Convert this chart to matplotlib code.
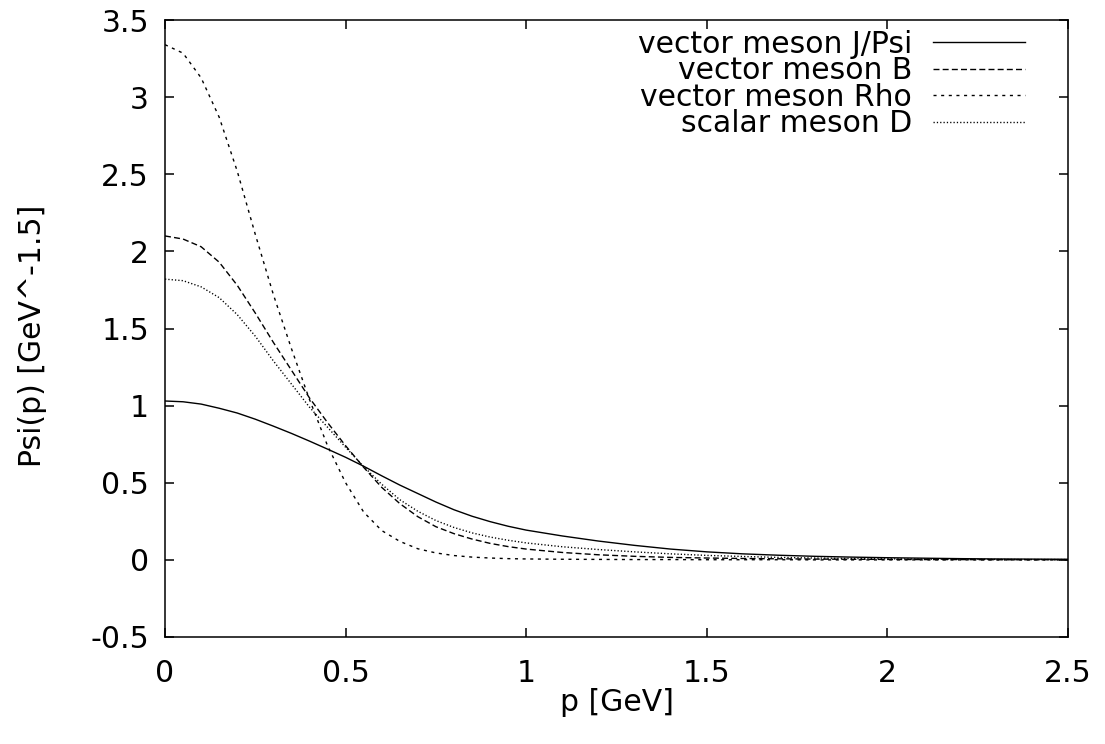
import matplotlib
matplotlib.use("Agg")
import matplotlib.pyplot as plt

p_values = [0, 0.05, 0.1, 0.15, 0.2, 0.25, 0.3, 0.35, 0.4, 0.45, 0.5, 0.55, 0.6,
            0.65, 0.7, 0.75, 0.8, 0.85, 0.9, 0.95, 1.0, 1.1, 1.2, 1.3, 1.4, 1.5,
            1.6, 1.7, 1.8, 1.9, 2.0, 2.1, 2.2, 2.3, 2.4, 2.5]

psi_jpsi = [1.03, 1.025, 1.01, 0.983, 0.952, 0.912, 0.867, 0.82, 0.77, 0.718, 0.665,
            0.607, 0.545, 0.485, 0.43, 0.375, 0.325, 0.283, 0.248, 0.218, 0.193, 0.155,
            0.122, 0.094, 0.070, 0.052, 0.039, 0.030, 0.023, 0.018, 0.014, 0.011,
            0.008, 0.006, 0.005, 0.004]

psi_b = [2.10, 2.08, 2.03, 1.93, 1.78, 1.60, 1.41, 1.23, 1.05, 0.89, 0.74, 0.60,
         0.47, 0.365, 0.28, 0.215, 0.17, 0.135, 0.107, 0.086, 0.070, 0.048, 0.033,
         0.023, 0.016, 0.012, 0.009, 0.007, 0.005, 0.004, 0.003, 0.002, 0.002,
         0.001, 0.001, 0.001]

psi_rho = [3.34, 3.285, 3.125, 2.87, 2.52, 2.11, 1.72, 1.37, 1.04, 0.74, 0.50, 0.31,
           0.19, 0.12, 0.072, 0.045, 0.028, 0.018, 0.012, 0.008, 0.006, 0.004,
           0.003, 0.002, 0.002, 0.001, 0.001, 0.001, 0.0, 0.0, 0.0, 0.0, 0.0,
           0.0, 0.0, 0.0]

psi_d = [1.82, 1.81, 1.77, 1.70, 1.59, 1.45, 1.29, 1.14, 0.99, 0.86, 0.73, 0.605,
         0.49, 0.39, 0.315, 0.255, 0.21, 0.175, 0.148, 0.127, 0.11, 0.085, 0.067,
         0.052, 0.039, 0.029, 0.022, 0.016, 0.012, 0.009, 0.007, 0.005, 0.004,
         0.003, 0.002, 0.002]

labels = ["vector meson J/Psi", "vector meson B", "vector meson Rho", "scalar meson D"]
x_ticks = [0, 0.5, 1, 1.5, 2, 2.5]
x_tick_labels = ["0", "0.5", "1", "1.5", "2", "2.5"]
y_ticks = [-0.5, 0, 0.5, 1, 1.5, 2, 2.5, 3, 3.5]
y_tick_labels = ["-0.5", "0", "0.5", "1", "1.5", "2", "2.5", "3", "3.5"]

plt.rcParams['font.family'] = ['DejaVu Sans']
plt.rcParams['lines.scale_dashes'] = False

FS = 21.5

fig = plt.figure(figsize=(11.05, 7.44), dpi=100)
ax = fig.add_axes([165/1105, 1 - 637/744, (1068 - 165)/1105, (637 - 20)/744])

lw = 1.0
ax.plot(p_values, psi_jpsi, color='black', lw=lw, linestyle='-', label=labels[0])
ax.plot(p_values, psi_b, color='black', lw=lw, linestyle=(0, (4.3, 2.3)), label=labels[1])
ax.plot(p_values, psi_rho, color='black', lw=lw, linestyle=(0, (2.2, 3.3)), label=labels[2])
ax.plot(p_values, psi_d, color='black', lw=lw, linestyle=(0, (0.9, 1.5)), label=labels[3])

ax.set_xlim(0, 2.5)
ax.set_ylim(-0.5, 3.5)
ax.set_xticks(x_ticks)
ax.set_xticklabels(x_tick_labels)
ax.set_yticks(y_ticks)
ax.set_yticklabels(y_tick_labels)
ax.tick_params(direction='in', length=6.5, width=1.1, top=True, right=True,
               labelsize=FS)
ax.tick_params(axis='x', pad=16)
ax.tick_params(axis='y', pad=11.5)
for s in ax.spines.values():
    s.set_linewidth(1.1)

ax.set_xlabel("p [GeV]", fontsize=FS)
ax.xaxis.set_label_coords(0.5, -0.0826)
ax.set_ylabel("Psi(p) [GeV^-1.5]", fontsize=FS)
ax.yaxis.set_label_coords(-0.1307, 0.488)

leg = ax.legend(loc='upper right', frameon=False, fontsize=FS, markerfirst=False,
                handlelength=3.08, labelspacing=-0.08, handletextpad=0.7,
                borderpad=0.32, borderaxespad=0.0, bbox_to_anchor=(0.963, 1.0))

fig.savefig("out.png", dpi=100)
